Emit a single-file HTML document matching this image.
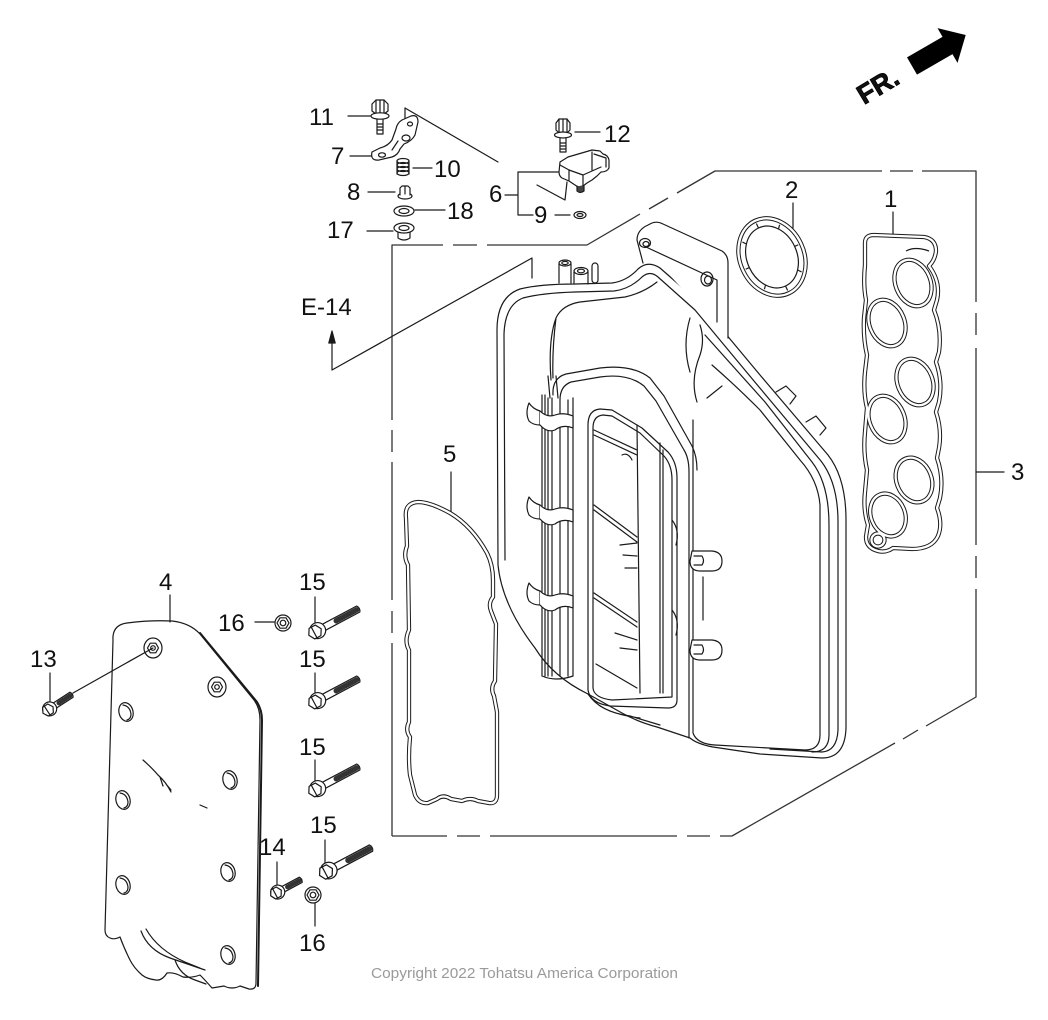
<!DOCTYPE html>
<html><head><meta charset="utf-8"><style>
html,body{margin:0;padding:0;background:#fff;}
svg{display:block;}
text{font-family:"Liberation Sans",Arial,sans-serif;fill:#111;}
</style></head><body>
<svg width="1048" height="1020" viewBox="0 0 1048 1020" xmlns="http://www.w3.org/2000/svg">
<rect width="1048" height="1020" fill="#fff"/>
<defs>
  <path id="g5" d="M 406,518 Q 404,503 418,502 Q 430,502 450,513 Q 472,526 487,553 Q 493,565 493,580 L 493,597 Q 488,603 491,611 L 496,624 L 495,681 Q 490,688 494,696 L 497,712 L 497,795 Q 497,804 489,803 L 478,801 Q 470,797 462,801 L 451,799 Q 443,794 437,799 L 428,803 Q 419,804 415,795 L 410,775 Q 408,758 410,737 Q 405,730 409,722 L 409,650 Q 404,641 409,630 L 408,565 Q 403,556 407,546 Z"/>
  <path id="g1" d="M 865,243 Q 865,235 874,235 L 924,237 Q 936,239 936,251 Q 935,260 929,266 Q 941,282 937,300 L 934,310 Q 942,330 939,352 L 936,362 Q 943,382 939,402 L 936,412 Q 942,430 939,448 L 937,458 Q 944,478 940,498 L 937,508 Q 943,524 938,536 Q 932,549 912,549 L 893,548 Q 886,553 878,551 Q 866,548 866,537 Q 867,530 868,525 Q 863,510 865,492 L 867,470 Q 863,452 865,432 L 867,408 Q 863,392 865,372 L 867,355 Q 863,338 864,318 L 866,300 Q 863,285 865,265 Z"/>
  <ellipse id="o1" cx="913" cy="283" rx="17.5" ry="24" transform="rotate(-22 913 283)"/>
  <ellipse id="o2" cx="887" cy="323" rx="17.5" ry="24" transform="rotate(-22 887 323)"/>
  <ellipse id="o3" cx="915" cy="382" rx="17.5" ry="24" transform="rotate(-22 915 382)"/>
  <ellipse id="o4" cx="887" cy="419" rx="17.5" ry="24" transform="rotate(-22 887 419)"/>
  <ellipse id="o5" cx="914" cy="480" rx="17.5" ry="23" transform="rotate(-22 914 480)"/>
  <ellipse id="o6" cx="888" cy="515" rx="17" ry="22" transform="rotate(-22 888 515)"/>
  <circle id="o7" cx="878" cy="540" r="6.5"/>
  <path id="o8" d="M 906,251 Q 915,246 929,251"/>
  <ellipse id="r2" cx="772" cy="257" rx="32" ry="40" transform="rotate(-25 772 257)"/>

  <g id="bL">
    <path d="M6,-3.4 L49,-3.4 Q51.5,0 49,3.4 L6,3.4" fill="#fff"/>
    <line x1="24" y1="0" x2="49" y2="0" stroke="#333" stroke-width="5.4" stroke-dasharray="0.8 1.7"/>
    <circle cx="3" cy="0" r="8" fill="#fff"/>
    <polygon points="7,0 3.5,6 -3.5,6 -7,0 -3.5,-6 3.5,-6" fill="#fff"/>
    <line x1="-1" y1="-6" x2="-1" y2="6"/>
  </g>
  <g id="bS">
    <path d="M5,-3 L28,-3 Q30,0 28,3 L5,3" fill="#fff"/>
    <line x1="13" y1="0" x2="28" y2="0" stroke="#333" stroke-width="4.8" stroke-dasharray="0.8 1.7"/>
    <circle cx="2" cy="0" r="7" fill="#fff"/>
    <polygon points="6,0 3,5.2 -3,5.2 -6,0 -3,-5.2 3,-5.2" fill="#fff"/>
    <line x1="-1" y1="-5.2" x2="-1" y2="5.2"/>
  </g>
  <g id="nut">
    <circle r="8" fill="#fff"/>
    <polygon points="6,0 3,5.2 -3,5.2 -6,0 -3,-5.2 3,-5.2"/>
    <circle r="2.8"/>
  </g>
  <g id="seat">
    <ellipse rx="9" ry="10"/>
    <polygon points="5.5,0 2.75,4.8 -2.75,4.8 -5.5,0 -2.75,-4.8 2.75,-4.8"/>
    <circle r="2.3"/>
  </g>
  <g id="hole">
    <ellipse rx="7" ry="9.5" transform="rotate(-15)"/>
    <path d="M -3,-7 Q 4,-6 5,2 Q 5,7 1,8"/>
  </g>
  <g id="clip">
    <path d="M 2,0 Q -2,10 2,18 Q 6,22 13,22 L 13,8 Q 6,6 2,0 Z"/>
    <path d="M 13,8 Q 20,15 28,12 Q 36,9 46,13 L 46,25 Q 36,21 28,27 Q 20,30 13,22"/>
  </g>
</defs>

<!-- FR arrow -->
<g transform="translate(912,66) rotate(-30)" fill="#000">
  <rect x="0" y="-10" width="42" height="20"/>
  <polygon points="41,-20 62,0 41,20"/>
</g>
<text x="0" y="0" transform="translate(864,105) rotate(-31)" font-size="27" font-weight="bold" style="stroke:#000;stroke-width:0.8">FR.</text>

<g fill="none" stroke="#1a1a1a" stroke-width="1.2" stroke-linejoin="round" stroke-linecap="round">

<!-- dashed phantom box, explicit segments -->
<g stroke="#333" stroke-width="1.3" stroke-linecap="butt">
<path d="M 392,836 L 392,643 M 392,633 L 392,611 M 392,600 L 392,462 M 392,452 L 392,430 M 392,420 L 392,245 L 443,245 M 453,245 L 477,245 M 487,245 L 587,245 L 640,214 M 649,209 L 668,198 M 677,193 L 715,171 L 882,171 M 890,171 L 913,171 M 922,171 L 976,171 L 976,302 M 976,313 L 976,335 M 976,348 L 976,545 M 976,556 L 976,578 M 976,589 L 976,697 L 926,726 M 918,730 L 903,739 M 895,743 L 732,836 L 720,836 M 710,836 L 687,836 M 677,836 L 490,836 M 480,836 L 457,836 M 447,836 L 392,836"/>
</g>

<!-- E-14 -->
<path d="M 332,370 L 332,342 M 332,370 L 532,258 L 532,278"/>
<polygon points="332,331 328.8,343 335.2,343" fill="#1a1a1a"/>

<!-- top small parts: leaders -->
<path d="M 348,116 L 370,116 M 350,156 L 375,156 M 413,168 L 432,168 M 368,192 L 395,192 M 415,210 L 445,210 M 367,231 L 393,231 M 575,132 L 600,132"/>
<path d="M 405,108 L 405,140 M 405,108 L 498,162"/>
<path d="M 505,195 L 518,195 M 518,172 L 518,215 M 518,172 L 560,172 M 518,215 L 533,215 M 555,215 L 570,215"/>
<path d="M 537,185 L 565,200 L 567,182"/>

<!-- bolt 11 -->
<polygon points="372,104 376,100 384,100 388,104 388,111 384,114 376,114 372,111" fill="#fff"/>
<path d="M 380,100 L 380,114 M 376,100 L 376,114 M 384,100 L 384,114"/>
<ellipse cx="380" cy="116" rx="9" ry="3.2" fill="#fff"/>
<path d="M 377,119 L 377,134 L 383,134 L 383,119"/>
<path d="M 377,124 L 383,124 M 377,127 L 383,127 M 377,130 L 383,130"/>
<!-- bracket 7 -->
<path d="M 372,152 Q 370,161 379,160 L 392,157 Q 398,155 400,149 L 404,144 Q 412,141 415,135 L 418,122 Q 418,114 411,116 L 402,120 Q 397,123 396,129 L 392,140 Q 388,146 380,148 Z" fill="#fff"/>
<ellipse cx="382" cy="155" rx="3.5" ry="2.2"/>
<ellipse cx="406" cy="138" rx="4" ry="3"/>
<ellipse cx="410" cy="124" rx="2.5" ry="2"/>
<path d="M 392,150 L 398,141"/>
<!-- spring 10 -->
<path d="M 397,161 L 397,174 M 409,161 L 409,174"/>
<ellipse cx="403" cy="161" rx="6" ry="2.5"/>
<ellipse cx="403" cy="165" rx="6" ry="2.5"/>
<ellipse cx="403" cy="169" rx="6" ry="2.5"/>
<ellipse cx="403" cy="173" rx="6" ry="2.5"/>
<!-- nut 8 -->
<ellipse cx="405" cy="196" rx="7" ry="3" fill="#fff"/>
<path d="M 400,195 L 400,188 L 402,186 L 408,186 L 410,188 L 410,195 M 405,186 L 405,194" fill="#fff"/>
<!-- washer 18 -->
<ellipse cx="404" cy="211" rx="10" ry="5"/>
<ellipse cx="404" cy="211" rx="5" ry="2.5"/>
<!-- 17 -->
<path d="M 398,231 L 398,238 Q 404,242 410,238 L 410,231"/>
<ellipse cx="404" cy="228" rx="10" ry="5" fill="#fff"/>
<ellipse cx="404" cy="228" rx="5" ry="2.5"/>
<!-- bolt 12 -->
<polygon points="556,123 559,119 567,119 570,123 570,130 567,133 559,133 556,130" fill="#fff"/>
<path d="M 563,119 L 563,133 M 559,119 L 559,133 M 567,119 L 567,133"/>
<ellipse cx="563" cy="135" rx="8.5" ry="3" fill="#fff"/>
<path d="M 560,138 L 560,152 L 566,152 L 566,138 M 560,143 L 566,143 M 560,146 L 566,146 M 560,149 L 566,149"/>
<!-- sensor 6 -->
<path d="M 560,162 L 568,157 L 592,150 L 600,151 L 603,154 Q 608,155 609,160 L 609,168 Q 607,172 601,172 L 597,176 L 592,180 L 587,183 L 583,186 L 578,187 L 569,181 L 562,178 Q 559,176 559,172 Z" fill="#fff"/>
<path d="M 560,165 L 569,170 L 583,175 L 592,171 L 601,167 M 592,152 L 592,170 M 594,154 L 606,158 L 606,167 M 569,170 L 569,180 M 583,175 L 583,186"/>
<path d="M 577,186 L 577,191 Q 580,194 584,191 L 584,186" fill="#444"/>
<!-- O-ring 9 -->
<ellipse cx="580" cy="215" rx="6" ry="3.5"/>
<ellipse cx="580" cy="215" rx="3" ry="1.5"/>

<!-- leaders 2, 1, 3, 5 -->
<path d="M 793,203 L 793,228 M 893,212 L 893,236 M 976,472 L 1004,472 M 451,472 L 451,512"/>

<!-- ===== Manifold ===== -->
<path d="M 498,565 L 497,330 Q 497,297 520,289 Q 540,284 575,284 L 612,283 Q 627,281 638,269 Q 648,260 660,268 L 700,303 L 760,375 L 828,455 Q 846,478 846,520 L 846,728 Q 845,758 822,758 L 760,754 L 713,747 Q 697,744 690,738 L 657,727 Q 638,722 622,713 L 588,694 Q 553,677 535,648 Q 502,605 498,565" fill="#fff"/>
<path d="M 505,560 L 504,334 Q 505,305 523,298 Q 542,293 575,292 L 614,291 Q 630,289 642,277 Q 650,270 658,277 L 695,310 L 754,381 L 821,461 Q 838,483 838,522 L 838,730 Q 837,751 822,752 L 770,749"/>
<path d="M 705,335 L 765,402 L 812,462 Q 829,484 829,525 L 829,735 Q 829,752 812,752"/>
<path d="M 693,420 L 693,733 Q 697,744 715,745 L 805,750 Q 820,750 820,735 L 820,505 Q 818,480 800,460 L 760,410 Q 735,385 712,365"/>
<path d="M 697,402 Q 690,380 700,355 Q 705,340 700,325 M 707,398 L 722,386"/>
<path d="M 776,392 L 786,386 L 796,396 L 790,404 M 806,422 L 816,416 L 826,428 L 820,435"/>
<!-- flange -->
<path d="M 637,240 Q 637,230 648,225 L 652,223 Q 657,221 663,224 L 722,251 Q 728,255 728,263 L 728,338 M 637,240 L 643,263 M 646,247 L 717,280 L 717,322" fill="#fff"/>
<ellipse cx="645" cy="243" rx="5.5" ry="4.5"/>
<ellipse cx="646" cy="244" rx="3" ry="2.5"/>
<ellipse cx="707" cy="279" rx="6" ry="7"/>
<ellipse cx="708" cy="280" rx="3.5" ry="4"/>
<!-- nipples -->
<path d="M 559,283 L 559,264 M 571,283 L 571,264 M 574,284 L 574,272 M 588,284 L 588,272" />
<ellipse cx="565" cy="263" rx="6" ry="3"/>
<ellipse cx="565" cy="263" rx="3.2" ry="1.6"/>
<ellipse cx="581" cy="271" rx="7" ry="3.5" fill="#fff"/>
<ellipse cx="581" cy="271" rx="3.5" ry="1.8"/>
<rect x="592" y="263" width="6" height="20" rx="3"/>
<!-- bowl -->
<path d="M 551,380 Q 548,340 556,318 Q 562,305 580,302 L 625,297 Q 643,293 657,282 M 556,318 Q 552,350 553,378 M 690,318 Q 682,345 690,372"/>
<!-- window frame -->
<path d="M 553,395 Q 552,378 566,374 L 600,368 Q 632,364 650,378 L 664,396 L 692,446 Q 697,456 697,470"/>
<path d="M 560,400 Q 560,386 571,382 L 600,377 Q 628,373 644,386 L 656,401 L 684,450 Q 689,458 689,472 L 689,738"/>
<path d="M 588,425 Q 588,410 600,409 L 612,410 L 642,428 L 668,452 Q 677,462 677,478 L 677,700 Q 677,708 668,708 L 610,706 Q 590,703 588,690 Z"/>
<path d="M 593,428 Q 593,416 603,415 L 612,416 L 640,433 L 664,456 Q 672,465 672,480 L 672,697 L 612,700 Q 594,698 593,688 Z"/>
<path d="M 637,425 L 640,693 M 660,443 L 660,693 M 663,450 L 663,693"/>
<path d="M 594,430 L 637,450 M 594,435 L 637,455 M 594,505 L 637,537 M 594,510 L 637,542 M 594,593 L 637,622 M 594,598 L 637,627 M 596,664 L 637,688"/>
<path d="M 620,545 L 637,543 M 623,555 L 637,556 M 625,568 L 637,568 M 615,633 L 637,640 M 620,648 L 637,650 M 622,455 Q 628,452 632,460"/>
<path d="M 672,520 Q 680,530 676,545 M 672,610 Q 680,620 676,635"/>
<path d="M 588,694 Q 600,712 630,716 L 660,725 M 600,706 Q 615,715 640,718"/>
<!-- tabs -->
<path d="M 692,551 L 712,551 Q 722,552 722,561 Q 722,571 712,571 L 700,571 Q 690,571 690,561 Z" fill="#fff"/>
<path d="M 694,556 L 702,556 Q 705,561 702,565 L 694,565"/>
<path d="M 692,640 L 712,640 Q 722,641 722,650 Q 722,660 712,660 L 700,660 Q 690,660 690,650 Z" fill="#fff"/>
<path d="M 694,645 L 702,645 Q 705,650 702,654 L 694,654"/>
<path d="M 703,577 L 703,620"/>
<!-- rails -->
<path d="M 542,395 L 542,676 M 545,395 L 545,676 M 548,398 L 548,676 M 552,398 L 552,676 M 560,400 L 560,676 M 568,400 L 568,676 M 573,398 L 573,676 M 542,676 Q 556,682 573,676"/>
<path d="M 548,376 L 550,398 M 556,376 L 558,398"/>
<use href="#clip" transform="translate(527,403)" fill="#fff"/>
<use href="#clip" transform="translate(527,497)" fill="#fff"/>
<use href="#clip" transform="translate(527,583)" fill="#fff"/>

<!-- ===== Plate 4 ===== -->
<path d="M 113,640 Q 112,625 127,623 Q 150,620 172,621 Q 190,623 200,634 L 254,700 Q 260,708 260,720 L 256,983 Q 256,990 249,989 L 240,986 Q 232,990 224,986 L 212,988 Q 205,980 200,975 Q 192,978 183,977 Q 174,972 167,973 Q 162,981 156,980 Q 147,979 142,975 Q 134,968 130,960 Q 124,948 120,937 Q 114,940 110,938 Q 105,936 105,930 Z" fill="#fff"/>
<path d="M 200,633 L 257,702 Q 262,710 262,720 L 258,986" stroke-width="2"/>
<path d="M 141,931 Q 148,950 170,958 L 205,970 M 146,929 Q 158,950 185,962 L 200,968 M 175,960 Q 180,975 195,980 L 206,984"/>
<path d="M 143,760 Q 152,768 158,775 Q 166,782 171,792 M 160,777 L 163,786 M 166,784 L 171,790 M 200,805 L 207,808"/>
<use href="#seat" transform="translate(153,648)"/>
<use href="#seat" transform="translate(217,687)"/>
<use href="#hole" transform="translate(126,712)"/>
<use href="#hole" transform="translate(230,780)"/>
<use href="#hole" transform="translate(123,800)"/>
<use href="#hole" transform="translate(228,872)"/>
<use href="#hole" transform="translate(123,885)"/>
<use href="#hole" transform="translate(228,955)"/>

<!-- leaders bottom-left -->
<path d="M 170,595 L 170,622 M 50,673 L 50,701 M 73,693 L 153,648 M 255,622 L 274,622 M 315,597 L 315,623 M 315,673 L 315,693 M 315,760 L 315,781 M 325,840 L 325,863 M 277,862 L 277,885 M 315,903 L 315,926"/>

<!-- bolts -->
<use href="#bS" transform="translate(48,710) rotate(-33)"/>
<use href="#bL" transform="translate(315,632) rotate(-28)"/>
<use href="#bL" transform="translate(315,702) rotate(-28)"/>
<use href="#bL" transform="translate(315,790) rotate(-28)"/>
<use href="#bL" transform="translate(326,872) rotate(-28) scale(1.04)"/>
<use href="#bS" transform="translate(276,893) rotate(-28)"/>
<use href="#nut" transform="translate(283,623)"/>
<use href="#nut" transform="translate(313,895)"/>
</g>

<!-- double-line parts (gaskets, ring) -->
<g fill="none" stroke="#1a1a1a" stroke-width="4.3" stroke-linejoin="round">
  <use href="#g5"/><use href="#g1"/>
  <use href="#o1"/><use href="#o2"/><use href="#o3"/><use href="#o4"/><use href="#o5"/><use href="#o6"/><use href="#o7"/>
  <use href="#r2"/>
</g>
<g fill="none" stroke="#fff" stroke-width="2.3" stroke-linejoin="round">
  <use href="#g5"/><use href="#g1"/>
  <use href="#o1"/><use href="#o2"/><use href="#o3"/><use href="#o4"/><use href="#o5"/><use href="#o6"/><use href="#o7"/>
  <use href="#r2"/>
</g>
<g fill="none" stroke="#1a1a1a" stroke-width="1.2">
  <use href="#o8"/>
  <g transform="translate(772,257) rotate(-25)">
    <ellipse rx="25" ry="32"/>
    <path d="M 25,0 L 29,0 M 17.7,22.6 L 20.5,26 M 0,32 L 0,37 M -17.7,22.6 L -20.5,26 M -25,0 L -29,0 M -17.7,-22.6 L -20.5,-26 M 0,-32 L 0,-37 M 17.7,-22.6 L 20.5,-26"/>
  </g>
</g>

<!-- labels -->
<g font-size="24">
<text x="309" y="125">11</text>
<text x="331" y="164">7</text>
<text x="434" y="177">10</text>
<text x="347" y="200">8</text>
<text x="447" y="219">18</text>
<text x="327" y="238">17</text>
<text x="604" y="142">12</text>
<text x="489" y="202">6</text>
<text x="534" y="223">9</text>
<text x="301" y="315">E-14</text>
<text x="785" y="198">2</text>
<text x="884" y="207">1</text>
<text x="1011" y="480">3</text>
<text x="443" y="462">5</text>
<text x="159" y="590">4</text>
<text x="299" y="590">15</text>
<text x="299" y="667">15</text>
<text x="299" y="755">15</text>
<text x="310" y="833">15</text>
<text x="218" y="631">16</text>
<text x="299" y="951">16</text>
<text x="30" y="667">13</text>
<text x="259" y="855">14</text>
</g>
<text x="371" y="978" font-size="15" textLength="307" lengthAdjust="spacingAndGlyphs" style="fill:#9a9a9a">Copyright 2022 Tohatsu America Corporation</text>
</svg>
</body></html>
